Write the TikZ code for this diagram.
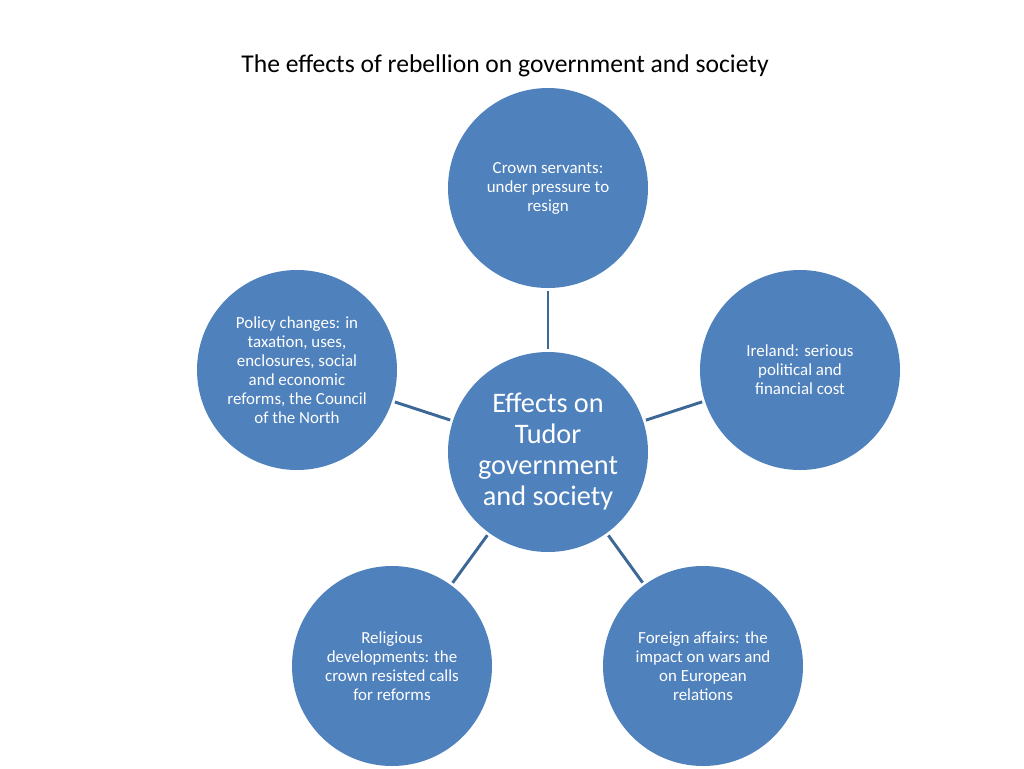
\documentclass[tikz,border=0pt]{standalone}
\usepackage{fontspec}
\setmainfont{Carlito}
\usepackage{xcolor}
\definecolor{bubble}{HTML}{4F81BD}
\definecolor{spoke}{HTML}{3C6898}

\tikzset{
  leaf/.style={circle,fill=bubble,text=white,minimum size=150pt,inner sep=0pt,
    align=center,font=\fontsize{12.7}{14.25}\selectfont},
  hub/.style={leaf,font=\fontsize{21.2}{23.25}\selectfont},
  spokeline/.style={draw=spoke,line width=2.2pt,shorten <=2pt,shorten >=2pt}
}

\begin{document}
\begin{tikzpicture}[x=0.75pt,y=-0.75pt]

\useasboundingbox (0,0) rectangle (1024,768) ;

%title
\node (title) at (505,66) {\fontsize{19.2}{23}\selectfont The effects of rebellion on government and society} ;

%centre
\node [hub] (effects) at (548,452) {Effects on\\Tudor\\government\\and society} ;

%outer circles
\node [leaf] (crown) at (548,188) {Crown servants:\\under pressure to\\resign} ;
\node [leaf] (ireland) at (800,370) {Ireland: serious\\political and\\financial cost} ;
\node [leaf] (policy) at (297,370) {Policy changes: in\\taxation, uses,\\enclosures, social\\and economic\\reforms, the Council\\of the North} ;
\node [leaf] (religion) at (392,666) {Religious\\developments: the\\crown resisted calls\\for reforms} ;
\node [leaf] (foreign) at (703,666) {Foreign affairs: the\\impact on wars and\\on European\\relations} ;

%spokes
\foreach \outer in {crown,ireland,policy,religion,foreign}
  \draw [spokeline] (effects) -- (\outer) ;

\end{tikzpicture}
\end{document}
